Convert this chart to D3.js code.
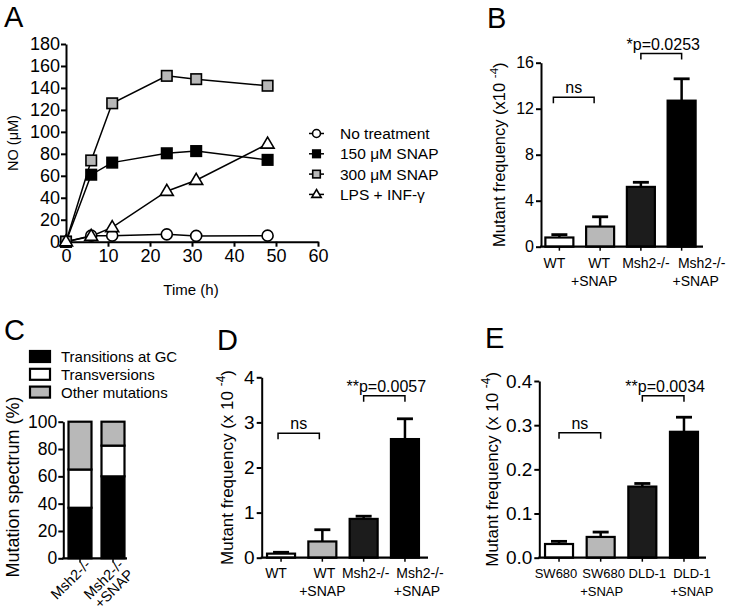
<!DOCTYPE html>
<html><head><meta charset="utf-8">
<script src="https://cdn.jsdelivr.net/npm/d3@7"></script>
<style>
body{margin:0;background:#fff;}
svg{display:block;font-family:"Liberation Sans",Arial,Helvetica,sans-serif;}
</style></head><body>
<svg id="fig" width="734" height="613"></svg>
<script>
// ---------- Panel A data ----------
const timeH = [0, 6, 11, 24, 31, 48];
const noTreatment = [0, 5.5, 5.5, 6.7, 5.3, 5.5];
const snap150 = [0, 61, 72, 80.5, 82.5, 74.5];
const snap300 = [0, 74, 126, 151, 148, 142];
const lpsInf = [0, 5, 13, 46, 56, 89];
const seriesNamesA = ["No treatment", "150 \u03BCM SNAP", "300 \u03BCM SNAP", "LPS + INF-\u03B3"];
const ticksAx = [0, 10, 20, 30, 40, 50, 60];
const ticksAy = [0, 20, 40, 60, 80, 100, 120, 140, 160, 180];

// ---------- Panel B data ----------
const catsB = ["WT", "WT\n+SNAP", "Msh2-/-", "Msh2-/-\n+SNAP"];
const meansB = [0.8, 1.75, 5.2, 12.7];
const errsB = [0.25, 0.85, 0.4, 1.9];
const ticksB = [0, 4, 8, 12, 16];
const sigB = [{a: 0, b: 1, y: 13, label: "ns"}, {a: 2, b: 3, y: 16.8, label: "*p=0.0253"}];

// ---------- Panel C data ----------
const catsC = ["Msh2-/-", "Msh2-/-\n+SNAP"];
const transitionsGC = [37, 60];
const transversions = [28, 22.5];
const otherMutations = [35, 17.5];
const seriesNamesC = ["Transitions at GC", "Transversions", "Other mutations"];
const ticksC = [0, 20, 40, 60, 80, 100];

// ---------- Panel D data ----------
const catsD = ["WT", "WT\n+SNAP", "Msh2-/-", "Msh2-/-\n+SNAP"];
const meansD = [0.09, 0.36, 0.86, 2.63];
const errsD = [0.03, 0.26, 0.06, 0.45];
const ticksD = [0, 1, 2, 3, 4];
const sigD = [{a: 0, b: 1, y: 2.76, label: "ns"}, {a: 2, b: 3, y: 3.59, label: "**p=0.0057"}];

// ---------- Panel E data ----------
const catsE = ["SW680", "SW680\n+SNAP", "DLD-1", "DLD-1\n+SNAP"];
const meansE = [0.031, 0.047, 0.161, 0.285];
const errsE = [0.006, 0.011, 0.007, 0.033];
const ticksE = [0, 0.1, 0.2, 0.3, 0.4];
const sigE = [{a: 0, b: 1, y: 0.283, label: "ns"}, {a: 2, b: 3, y: 0.3665, label: "**p=0.0034"}];

const barFills = ["#ffffff", "#b8b8b8", "#1c1c1c", "#000000"];

const svg = d3.select("#fig");

function panelLabel(t, x, y) {
  svg.append("text").attr("x", x).attr("y", y).attr("font-size", 29).text(t);
}
function styleAxis(g, fs) {
  g.select(".domain").attr("stroke", "#000").attr("stroke-width", 2);
  g.selectAll(".tick line").attr("stroke", "#000").attr("stroke-width", 2);
  g.selectAll(".tick text").attr("fill", "#000").attr("font-size", fs).attr("font-family", null);
}
function yLabel(x, y, fs, parts) {
  const t = svg.append("text").attr("transform", `translate(${x},${y}) rotate(-90)`)
    .attr("text-anchor", "middle").attr("font-size", fs);
  parts.forEach(p => {
    const ts = t.append("tspan").text(p.t);
    if (p.sup) ts.attr("font-size", fs * 0.7).attr("dy", -fs * 0.45);
    if (p.after) ts.attr("dy", fs * 0.45);
  });
}

// ================= Panel A =================
panelLabel("A", 4, 27);
const xA = d3.scaleLinear().domain([0, 60]).range([66, 318]);
const yA = d3.scaleLinear().domain([0, 180]).range([241.7, 44]);
const gAx = svg.append("g").attr("transform", "translate(0,241.7)")
  .call(d3.axisBottom(xA).tickValues(ticksAx).tickSize(5).tickPadding(3).tickSizeOuter(0));
styleAxis(gAx, 18);
const gAy = svg.append("g").attr("transform", "translate(66,0)")
  .call(d3.axisLeft(yA).tickValues(ticksAy).tickSize(5).tickPadding(1).tickSizeOuter(0));
styleAxis(gAy, 18);
svg.append("text").attr("x", 191).attr("y", 295).attr("text-anchor", "middle").attr("font-size", 15).text("Time (h)");
yLabel(18, 143, 14.5, [{t: "NO (\u03BCM)"}]);

const seriesA = [
  {vals: noTreatment, shape: "circle", fill: "#fff"},
  {vals: snap150, shape: "square", fill: "#000"},
  {vals: snap300, shape: "square", fill: "#b8b8b8"},
  {vals: lpsInf, shape: "triangle", fill: "#fff"}
];
const lineA = d3.line().x((d, i) => xA(timeH[i])).y(d => yA(d));
seriesA.forEach(s => {
  svg.append("path").attr("d", lineA(s.vals)).attr("fill", "none").attr("stroke", "#000").attr("stroke-width", 1.5);
});
function marker(g, shape, fill, cx, cy, k) {
  if (shape === "circle") {
    g.append("circle").attr("cx", cx).attr("cy", cy).attr("r", 5.5 * k).attr("fill", fill).attr("stroke", "#000").attr("stroke-width", 1.6);
  } else if (shape === "square") {
    const s = 10.5 * k;
    g.append("rect").attr("x", cx - s / 2).attr("y", cy - s / 2).attr("width", s).attr("height", s).attr("fill", fill).attr("stroke", "#000").attr("stroke-width", 1.6);
  } else {
    const h = 11 * k, w = 13 * k;
    g.append("path").attr("d", `M${cx},${cy - h * 0.62}L${cx + w / 2},${cy + h * 0.38}L${cx - w / 2},${cy + h * 0.38}Z`)
      .attr("fill", fill).attr("stroke", "#000").attr("stroke-width", 1.6).attr("stroke-linejoin", "miter");
  }
}
seriesA.forEach(s => {
  s.vals.forEach((v, i) => marker(svg, s.shape, s.fill, xA(timeH[i]), yA(v), 1));
});
// legend A
seriesA.forEach((s, i) => {
  const y = 133.5 + i * 20.3;
  svg.append("line").attr("x1", 309).attr("x2", 324).attr("y1", y).attr("y2", y).attr("stroke", "#000").attr("stroke-width", 1.5);
  marker(svg, s.shape, s.fill, 316.5, y, 0.72);
  svg.append("text").attr("x", 340).attr("y", y).attr("dy", "0.36em").attr("font-size", 15.5).text(seriesNamesA[i]);
});

// ================= Bar panels =================
function barPanel(o) {
  const y = d3.scaleLinear().domain(o.yDomain).range(o.yRange);
  const x = d3.scalePoint().domain(o.cats).range(o.xRange).padding(0.5);
  // bars
  o.cats.forEach((c, i) => {
    const top = y(o.means[i]);
    svg.append("rect").attr("x", x(c) - o.barW / 2 + 1).attr("y", top)
      .attr("width", o.barW - 2).attr("height", o.yRange[0] - top)
      .attr("fill", barFills[i]).attr("stroke", "#000").attr("stroke-width", 2.2);
    const cap = y(o.means[i] + o.errs[i]);
    svg.append("line").attr("x1", x(c)).attr("x2", x(c)).attr("y1", top).attr("y2", cap).attr("stroke", "#000").attr("stroke-width", 2.5);
    svg.append("line").attr("x1", x(c) - 8).attr("x2", x(c) + 8).attr("y1", cap).attr("y2", cap).attr("stroke", "#000").attr("stroke-width", 2.8);
  });
  // y axis
  const gy = svg.append("g").attr("transform", `translate(${o.axisX0},0)`)
    .call(d3.axisLeft(y).tickValues(o.ticks).tickFormat(o.fmt).tickSize(5).tickPadding(2).tickSizeOuter(0));
  styleAxis(gy, o.tickFs);
  // x axis line and small ticks
  svg.append("line").attr("x1", o.axisX0 - 1).attr("x2", o.axisX1).attr("y1", o.yRange[0]).attr("y2", o.yRange[0]).attr("stroke", "#000").attr("stroke-width", 2.2);
  o.cats.forEach((c, i) => {
    svg.append("line").attr("x1", x(c)).attr("x2", x(c)).attr("y1", o.yRange[0]).attr("y2", o.yRange[0] + 4).attr("stroke", "#000").attr("stroke-width", 1.5);
    const lines = c.split("\n");
    const t = svg.append("text").attr("text-anchor", "middle").attr("font-size", o.catFs);
    lines.forEach((l, k) => t.append("tspan").attr("x", x(c) + o.labelDx[i] + (k ? o.line2Dx[i] : 0)).attr("y", o.yRange[0] + o.catDy + k * 18.5).text(l));
  });
  // significance
  o.sig.forEach(s => {
    const x1 = x(o.cats[s.a]) + (s.off || 0), x2 = x(o.cats[s.b]) + (s.off || 0), yy = y(s.y);
    svg.append("path").attr("d", `M${x1},${yy + 6}V${yy}H${x2}V${yy + 6}`).attr("fill", "none").attr("stroke", "#000").attr("stroke-width", 1.5);
    svg.append("text").attr("x", (x1 + x2) / 2 + (s.label === "ns" ? 0 : 2)).attr("y", yy - 4).attr("text-anchor", "middle").attr("font-size", o.sigFs).text(s.label);
  });
  yLabel(o.ylX, (o.yRange[0] + o.yRange[1]) / 2 + o.ylDy, o.ylFs, o.ylParts);
}

// B
panelLabel("B", 487, 28);
barPanel({cats: catsB, means: meansB, errs: errsB, yDomain: [0, 16], yRange: [246.7, 62.7], xRange: [539, 702],
  ticks: ticksB, fmt: d3.format("d"), barW: 30, axisX0: 541, axisX1: 703, tickFs: 16, catFs: 14, catDy: 21,
  labelDx: [-5, -1, 5, 20], line2Dx: [0, -5, 0, -6],
  sig: [Object.assign({off: -6}, sigB[0]), sigB[1]], sigFs: 16,
  ylX: 505, ylDy: 0, ylFs: 16.5, ylParts: [{t: "Mutant frequency (x10 "}, {t: "-4", sup: true}, {t: ")", after: true}]});

// D
panelLabel("D", 217, 350);
barPanel({cats: catsD, means: meansD, errs: errsD, yDomain: [0, 4], yRange: [557.7, 377.3], xRange: [260.4, 425.6],
  ticks: ticksD, fmt: d3.format("d"), barW: 30, axisX0: 261.7, axisX1: 428, tickFs: 19, catFs: 14, catDy: 20,
  labelDx: [-5, 2, 2, 15], line2Dx: [0, -2, 0, -3],
  sig: [Object.assign({off: -3}, sigD[0]), sigD[1]], sigFs: 16,
  ylX: 233, ylDy: 0, ylFs: 17, ylParts: [{t: "Mutant frequency (x 10 "}, {t: "-4", sup: true}, {t: ")", after: true}]});

// E
panelLabel("E", 485, 348);
barPanel({cats: catsE, means: meansE, errs: errsE, yDomain: [0, 0.4], yRange: [557.7, 381], xRange: [538.2, 704.8],
  ticks: ticksE, fmt: d3.format(".1f"), barW: 30, axisX0: 539.3, axisX1: 706, tickFs: 19, catFs: 13, catDy: 20,
  labelDx: [-3, 3, 5, 8], line2Dx: [0, -2, 0, 0],
  sig: sigE, sigFs: 16,
  ylX: 498, ylDy: 0, ylFs: 17, ylParts: [{t: "Mutant frequency (x 10 "}, {t: "-4", sup: true}, {t: ")", after: true}]});

// ================= Panel C =================
panelLabel("C", 4, 340);
const yC = d3.scaleLinear().domain([0, 100]).range([558.3, 421.7]);
const xC = d3.scalePoint().domain(catsC).range([63.5, 129.5]).padding(0.5);
const stackC = [transitionsGC, transversions, otherMutations];
const fillsC = ["#000000", "#ffffff", "#b8b8b8"];
catsC.forEach((c, i) => {
  let base = 0;
  stackC.forEach((arr, k) => {
    const v = arr[i];
    svg.append("rect").attr("x", xC(c) - 11.5).attr("y", yC(base + v)).attr("width", 23)
      .attr("height", yC(base) - yC(base + v)).attr("fill", fillsC[k]).attr("stroke", "#000").attr("stroke-width", 2.2);
    base += v;
  });
});
const gCy = svg.append("g").attr("transform", "translate(63.3,0)")
  .call(d3.axisLeft(yC).tickValues(ticksC).tickSize(5).tickPadding(1).tickSizeOuter(0));
styleAxis(gCy, 17.5);
svg.append("line").attr("x1", 62.3).attr("x2", 127).attr("y1", 558.3).attr("y2", 558.3).attr("stroke", "#000").attr("stroke-width", 2.2);
catsC.forEach(c => {
  svg.append("line").attr("x1", xC(c)).attr("x2", xC(c)).attr("y1", 558.3).attr("y2", 562.5).attr("stroke", "#000").attr("stroke-width", 1.5);
  const lines = c.split("\n");
  const t = svg.append("text").attr("transform", `translate(${xC(c) + 8},${562}) rotate(-45)`)
    .attr("text-anchor", "end").attr("font-size", 14.5);
  lines.forEach((l, k) => t.append("tspan").attr("x", 0).attr("y", 5 + k * 14).text(l));
});
yLabel(19, 487, 18, [{t: "Mutation spectrum (%)"}]);
seriesNamesC.forEach((n, k) => {
  const yy = 356.5 + k * 17.8;
  svg.append("rect").attr("x", 30).attr("y", yy - 5.5).attr("width", 20).attr("height", 11).attr("fill", fillsC[k]).attr("stroke", "#000").attr("stroke-width", 2.2);
  svg.append("text").attr("x", 61).attr("y", yy).attr("dy", "0.36em").attr("font-size", 15).text(n);
});
</script>
</body></html>
